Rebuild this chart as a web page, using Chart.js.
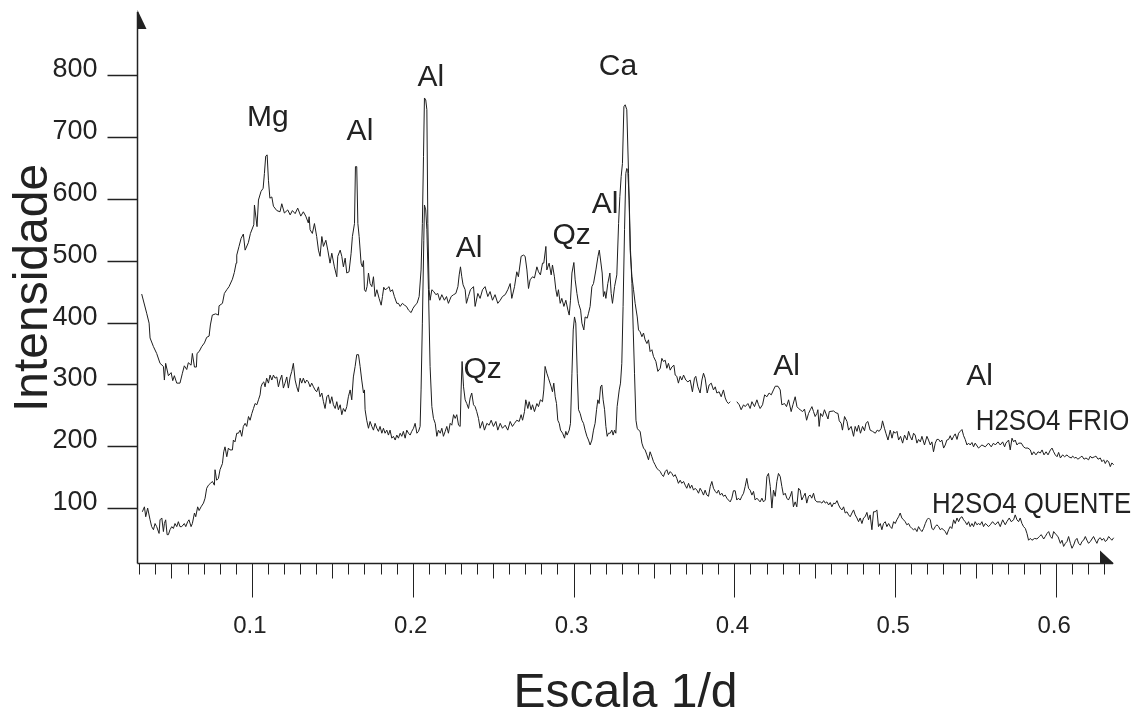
<!DOCTYPE html>
<html>
<head>
<meta charset="utf-8">
<script src="https://cdn.jsdelivr.net/npm/chart.js@4/dist/chart.umd.min.js"></script>
<style>
  html, body { margin: 0; padding: 0; background: #ffffff; }
  canvas { display: block; }
</style>
</head>
<body>
<canvas id="xrd" width="1143" height="711"></canvas>
<script>
// H2SO4 FRIO (upper trace)
const frioX = [
  0.0315, 0.0346, 0.0361, 0.0367, 0.0388, 0.0408, 0.0429, 0.0450, 0.0456, 0.0464,
  0.0481, 0.0498, 0.0508, 0.0518, 0.0533, 0.0553, 0.0568, 0.0580, 0.0595, 0.0605,
  0.0622, 0.0630, 0.0643, 0.0655, 0.0659, 0.0672, 0.0688, 0.0705, 0.0719, 0.0734,
  0.0742, 0.0754, 0.0775, 0.0792, 0.0796, 0.0817, 0.0829, 0.0844, 0.0858, 0.0879,
  0.0891, 0.0902, 0.0906, 0.0920, 0.0933, 0.0947, 0.0958, 0.0978, 0.0991, 0.1012,
  0.1016, 0.1032, 0.1041, 0.1057, 0.1070, 0.1078, 0.1086, 0.1095, 0.1103, 0.1112,
  0.1124, 0.1134, 0.1155, 0.1175, 0.1186, 0.1202, 0.1223, 0.1238, 0.1252, 0.1269,
  0.1285, 0.1304, 0.1320, 0.1335, 0.1351,
  0.1356, 0.1362, 0.1376, 0.1389, 0.1403, 0.1414, 0.1424, 0.1435, 0.1445, 0.1460,
  0.1472, 0.1486, 0.1497, 0.1513, 0.1528, 0.1534, 0.1549, 0.1559, 0.1569, 0.1580,
  0.1590, 0.1604, 0.1617, 0.1625, 0.1638, 0.1644, 0.1652, 0.1659, 0.1667, 0.1679,
  0.1687, 0.1694, 0.1700, 0.1708, 0.1716, 0.1725, 0.1735, 0.1746, 0.1756, 0.1766,
  0.1777, 0.1791, 0.1804, 0.1812, 0.1820, 0.1828, 0.1841, 0.1853, 0.1861, 0.1874,
  0.1886, 0.1901, 0.1911, 0.1922, 0.1936, 0.1949, 0.1961, 0.1974, 0.1990, 0.2002,
  0.2015, 0.2027, 0.2040, 0.2052, 0.2060, 0.2067, 0.2073, 0.2081, 0.2088, 0.2094,
  0.2102, 0.2108, 0.2119, 0.2131, 0.2144, 0.2156, 0.2168, 0.2181, 0.2197, 0.2210,
  0.2222, 0.2239, 0.2254, 0.2268, 0.2281, 0.2289, 0.2297, 0.2305, 0.2313, 0.2326,
  0.2334, 0.2346, 0.2359, 0.2378,
  0.2388, 0.2405, 0.2419, 0.2434, 0.2450, 0.2467, 0.2481, 0.2496, 0.2512, 0.2529,
  0.2544, 0.2558, 0.2575, 0.2591, 0.2606, 0.2616, 0.2633, 0.2647, 0.2657, 0.2674,
  0.2689, 0.2699, 0.2710, 0.2720, 0.2730, 0.2745, 0.2757, 0.2772, 0.2782, 0.2794,
  0.2807, 0.2815, 0.2828, 0.2834, 0.2848, 0.2861, 0.2869, 0.2881, 0.2890, 0.2898,
  0.2906, 0.2917, 0.2927, 0.2940, 0.2952, 0.2965, 0.2973, 0.2981, 0.2990, 0.3002,
  0.3010, 0.3021, 0.3031, 0.3044, 0.3052, 0.3064, 0.3072, 0.3085, 0.3093, 0.3103,
  0.3114, 0.3124, 0.3139, 0.3152, 0.3160, 0.3168, 0.3178, 0.3186, 0.3194, 0.3201,
  0.3213, 0.3226, 0.3234, 0.3242, 0.3255, 0.3269, 0.3280, 0.3288, 0.3296, 0.3304,
  0.3313, 0.3321, 0.3331, 0.3342, 0.3352, 0.3363, 0.3373, 0.3383, 0.3396, 0.3404,
  0.3414, 0.3425, 0.3435, 0.3445, 0.3456,
  0.3466, 0.3476, 0.3487, 0.3497, 0.3512, 0.3524, 0.3539, 0.3549, 0.3559, 0.3570,
  0.3580, 0.3590, 0.3601, 0.3611, 0.3624, 0.3632, 0.3642, 0.3652, 0.3663, 0.3673,
  0.3684, 0.3698, 0.3711, 0.3725, 0.3739, 0.3752, 0.3760, 0.3773, 0.3787, 0.3798,
  0.3808, 0.3818, 0.3831, 0.3843, 0.3856, 0.3870, 0.3881, 0.3891, 0.3905, 0.3918,
  0.3932, 0.3943, 0.3953, 0.3963, 0.3974, 0.3995, 0.4015, 0.4030, 0.4042, 0.4057,
  0.4067, 0.4084, 0.4098, 0.4109, 0.4125, 0.4140, 0.4150, 0.4160, 0.4175, 0.4188,
  0.4202, 0.4216, 0.4229, 0.4243, 0.4254, 0.4271, 0.4285, 0.4295, 0.4312, 0.4324,
  0.4337, 0.4353, 0.4364, 0.4378, 0.4389, 0.4399, 0.4409, 0.4424, 0.4436, 0.4449,
  0.4461, 0.4472, 0.4482, 0.4492, 0.4502, 0.4513,
  0.4519, 0.4527, 0.4536, 0.4548, 0.4560, 0.4582, 0.4590, 0.4617, 0.4631, 0.4644,
  0.4652, 0.4664, 0.4672, 0.4685, 0.4700, 0.4710, 0.4726, 0.4741, 0.4751, 0.4762,
  0.4772, 0.4784, 0.4797, 0.4809, 0.4818, 0.4830, 0.4844, 0.4859, 0.4876, 0.4888,
  0.4900, 0.4913, 0.4921, 0.4933, 0.4942, 0.4955, 0.4969, 0.4980, 0.4990, 0.5000,
  0.5011, 0.5021, 0.5033, 0.5046, 0.5058, 0.5073, 0.5083, 0.5093, 0.5104, 0.5114,
  0.5124, 0.5135, 0.5145, 0.5156, 0.5166, 0.5182, 0.5197, 0.5207, 0.5218, 0.5228,
  0.5238, 0.5249, 0.5259, 0.5270, 0.5280, 0.5290, 0.5301, 0.5311, 0.5321, 0.5332,
  0.5342, 0.5352, 0.5363, 0.5373, 0.5384, 0.5394, 0.5404, 0.5415, 0.5425, 0.5435,
  0.5446, 0.5456, 0.5466, 0.5477, 0.5487, 0.5497, 0.5518, 0.5539, 0.5560, 0.5580,
  0.5597, 0.5611, 0.5622, 0.5639, 0.5653, 0.5668, 0.5680, 0.5688, 0.5705, 0.5715,
  0.5726, 0.5736, 0.5746, 0.5757, 0.5767, 0.5784, 0.5798, 0.5809, 0.5825, 0.5840,
  0.5850, 0.5861, 0.5875, 0.5888, 0.5902, 0.5913, 0.5925, 0.5938, 0.5950, 0.5965,
  0.5975, 0.5985, 0.5995, 0.6006, 0.6016, 0.6027, 0.6041, 0.6053, 0.6068, 0.6078,
  0.6095, 0.6103, 0.6115, 0.6124, 0.6136, 0.6151, 0.6161, 0.6174, 0.6186, 0.6202,
  0.6213, 0.6223, 0.6240, 0.6248, 0.6261, 0.6275, 0.6285, 0.6296, 0.6306, 0.6316,
  0.6327, 0.6337, 0.6347, 0.6358
];
const frioY = [
  446, 415, 399, 375, 361, 350, 334, 329, 307, 334,
  314, 319, 306, 314, 302, 302, 318, 330, 324, 335,
  331, 350, 328, 328, 350, 353, 361, 367, 376, 378,
  396, 412, 414, 412, 427, 431, 447, 453, 458, 470,
  481, 496, 509, 523, 536, 543, 517, 529, 544, 558,
  590, 555, 598, 612, 617, 641, 669, 671, 630, 601,
  603, 588, 581, 579, 592, 577, 582, 574, 581, 576,
  585, 572, 579, 572, 561,
  571, 550, 544, 560, 539, 517, 507, 539, 523, 533,
  517, 496, 512, 490, 474, 507, 517, 507, 490, 504,
  480, 482, 512, 539, 560, 652, 652, 560, 539, 496,
  490, 500, 453, 450, 458, 480, 463, 458, 474, 442,
  453, 439, 428, 442, 457, 453, 455, 458, 450, 453,
  442, 431, 431, 426, 431, 428, 426, 420, 416, 423,
  428, 431, 442, 485, 560, 668, 763, 760, 744, 560,
  453, 436, 453, 450, 445, 447, 436, 445, 436, 442,
  431, 442, 445, 447, 458, 477, 490, 474, 461, 453,
  431, 442, 453, 458,
  426, 447, 439, 453, 458, 442, 450, 436, 445, 431,
  436, 442, 445, 453, 463, 439, 458, 482, 474, 507,
  509, 507, 485, 455, 469, 474, 472, 490, 482, 477,
  496, 496, 523, 485, 496, 477, 493, 474, 453, 442,
  453, 431, 439, 426, 436, 420, 412, 436, 480, 497,
  469, 447, 431, 420, 399, 388, 409, 407, 415, 426,
  458, 463, 485, 507, 517, 501, 480, 442, 450, 439,
  463, 480, 447, 431, 458, 477, 560, 604, 636, 657,
  749, 752, 744, 641, 517, 474, 453, 431, 409, 388,
  385, 377, 383, 372, 366,
  372, 353, 356, 345, 337, 321, 326, 342, 337, 339,
  326, 334, 323, 328, 331, 315, 313, 302, 313, 307,
  315, 307, 304, 307, 288, 310, 313, 296, 286, 307,
  318, 310, 286, 299, 302, 291, 296, 286, 288, 280,
  291, 278, 272, 269, 272, null, 272, 267, 259, 267,
  264, 269, 261, 272, 264, 275, 267, 261, 267, 283,
  280, 286, 283, 291, 297, 297, 291, 267, 269, 264,
  275, 256, 267, 280, 264, 261, 259, 256, 260, 242,
  253, 259, 264, 256, 248, 253,
  259, 232, 253, 248, 259, 244, 256, 257, 254, 253,
  241, 237, 226, 248, 240, 226, 232, 216, 232, 224,
  234, 221, 232, 225, 237, 240, 226, 224, 221, 226,
  224, 229, 241, 229, 221, 210, 226, 213, 224, 221,
  224, 210, 216, 205, 218, 210, 224, 216, 210, 221,
  218, 205, 211, 207, 216, 202, 216, 210, 202, 207,
  191, 205, 211, 211, 207, 210, 197, 202, 210, 211,
  217, 210, 216, 220, 211, 221, 224, 227, 217, 211,
  202, 205, 202, 206, 199, 205, 197, 202, 199, 205,
  199, 205, 202, 207, 202, 207, 199, 205, 210, 194,
  213, 207, 210, 202, 205, 205, 199, 197, 197, 194,
  186, 191, 186, 191, 189, 194, 186, 191, 186, 194,
  197, 191, 186, 183, 190, 181, 186, 183, 186, 183,
  181, 184, 181, 182, 179, 182, 184, 179, 181, 178,
  184, 181, 183, 184, 179, 181, 175, 178, 172, 177,
  175, 167, 173, 170
];

// H2SO4 QUENTE (lower trace)
const quenteX = [
  0.0319, 0.0332, 0.0340, 0.0352, 0.0367, 0.0377, 0.0388, 0.0398, 0.0408, 0.0423,
  0.0429, 0.0440, 0.0450, 0.0456, 0.0464, 0.0473, 0.0481, 0.0491, 0.0502, 0.0512,
  0.0522, 0.0533, 0.0543, 0.0553, 0.0564, 0.0580, 0.0589, 0.0601, 0.0609, 0.0622,
  0.0630, 0.0643, 0.0651, 0.0663, 0.0672, 0.0684, 0.0699, 0.0709, 0.0719, 0.0730,
  0.0742, 0.0755, 0.0767, 0.0771, 0.0781, 0.0792, 0.0802, 0.0817, 0.0825, 0.0833,
  0.0844, 0.0854, 0.0864, 0.0879, 0.0885, 0.0895, 0.0906, 0.0916, 0.0927, 0.0937,
  0.0947, 0.0958, 0.0968, 0.0979, 0.0989, 0.1000, 0.1010, 0.1020, 0.1031, 0.1041,
  0.1051, 0.1057, 0.1066, 0.1074, 0.1082, 0.1092, 0.1103, 0.1113, 0.1124, 0.1134,
  0.1144, 0.1155, 0.1165, 0.1175, 0.1186, 0.1196, 0.1206, 0.1217, 0.1227, 0.1238,
  0.1248, 0.1258, 0.1269, 0.1279, 0.1289, 0.1300, 0.1310, 0.1320, 0.1331, 0.1341,
  0.1351, 0.1362, 0.1372, 0.1383, 0.1393, 0.1403, 0.1414, 0.1424, 0.1435, 0.1445,
  0.1455, 0.1466, 0.1476, 0.1486, 0.1497, 0.1507, 0.1518, 0.1528, 0.1538, 0.1549,
  0.1559, 0.1569, 0.1580, 0.1590, 0.1600, 0.1611, 0.1621, 0.1631, 0.1642, 0.1652,
  0.1663, 0.1673, 0.1683, 0.1694, 0.1700, 0.1704, 0.1714, 0.1725, 0.1735, 0.1746,
  0.1756, 0.1766, 0.1777, 0.1787, 0.1797, 0.1808, 0.1818, 0.1828, 0.1839, 0.1849,
  0.1859, 0.1870, 0.1880, 0.1891, 0.1901, 0.1911, 0.1922, 0.1932, 0.1942, 0.1953,
  0.1963, 0.1974, 0.1984, 0.1994, 0.2005, 0.2015, 0.2026, 0.2036, 0.2046, 0.2052,
  0.2060, 0.2069, 0.2073, 0.2081, 0.2088, 0.2098, 0.2108, 0.2119, 0.2129, 0.2140,
  0.2150, 0.2160, 0.2171, 0.2181, 0.2191, 0.2202, 0.2212, 0.2222, 0.2233, 0.2243,
  0.2254, 0.2264, 0.2274, 0.2285, 0.2295, 0.2301, 0.2307, 0.2316, 0.2326, 0.2336,
  0.2347, 0.2357, 0.2367, 0.2378, 0.2388, 0.2398, 0.2409,
  0.2419, 0.2434, 0.2446, 0.2461, 0.2475, 0.2488, 0.2502, 0.2517, 0.2529, 0.2544,
  0.2558, 0.2575, 0.2591, 0.2606, 0.2620, 0.2633, 0.2647, 0.2662, 0.2674, 0.2683,
  0.2695, 0.2703, 0.2716, 0.2724, 0.2736, 0.2745, 0.2757, 0.2772, 0.2782, 0.2794,
  0.2807, 0.2815, 0.2823, 0.2834, 0.2844, 0.2861, 0.2869, 0.2877, 0.2886, 0.2894,
  0.2902, 0.2911, 0.2919, 0.2932, 0.2944, 0.2952, 0.2960, 0.2973, 0.2981, 0.2990,
  0.2998, 0.3006, 0.3014, 0.3023, 0.3031, 0.3041, 0.3052, 0.3062, 0.3072, 0.3083,
  0.3093, 0.3103, 0.3114, 0.3124, 0.3134, 0.3143, 0.3151, 0.3159, 0.3168, 0.3176,
  0.3184, 0.3193, 0.3201, 0.3209, 0.3217, 0.3228, 0.3238, 0.3246, 0.3255, 0.3263,
  0.3271, 0.3284, 0.3292, 0.3300, 0.3308, 0.3317, 0.3325, 0.3331, 0.3337, 0.3346,
  0.3354, 0.3363, 0.3371, 0.3379, 0.3388, 0.3396, 0.3404, 0.3414, 0.3425, 0.3435,
  0.3445, 0.3456, 0.3466,
  0.3476, 0.3487, 0.3497, 0.3507, 0.3518, 0.3528, 0.3539, 0.3549, 0.3559, 0.3570,
  0.3580, 0.3590, 0.3601, 0.3611, 0.3622, 0.3632, 0.3642, 0.3652, 0.3663, 0.3673,
  0.3684, 0.3694, 0.3704, 0.3715, 0.3725, 0.3735, 0.3746, 0.3756, 0.3767, 0.3777,
  0.3787, 0.3798, 0.3808, 0.3818, 0.3829, 0.3839, 0.3850, 0.3860, 0.3870, 0.3881,
  0.3891, 0.3901, 0.3912, 0.3922, 0.3932, 0.3943, 0.3953, 0.3963, 0.3974, 0.3984,
  0.3994, 0.4005, 0.4015, 0.4025, 0.4036, 0.4046, 0.4057, 0.4067, 0.4077, 0.4088,
  0.4098, 0.4109, 0.4119, 0.4129, 0.4140, 0.4150, 0.4160, 0.4171, 0.4181, 0.4192,
  0.4202, 0.4212, 0.4223, 0.4233, 0.4243, 0.4254, 0.4264, 0.4274, 0.4285, 0.4295,
  0.4305, 0.4316, 0.4326, 0.4336, 0.4347, 0.4357, 0.4367, 0.4378, 0.4388, 0.4399,
  0.4409, 0.4419, 0.4430, 0.4440, 0.4450, 0.4461, 0.4471, 0.4481, 0.4492, 0.4502,
  0.4513,
  0.4534, 0.4544, 0.4555, 0.4565, 0.4575, 0.4586, 0.4596, 0.4606, 0.4617, 0.4627,
  0.4638, 0.4648, 0.4658, 0.4669, 0.4679, 0.4689, 0.4700, 0.4710, 0.4720, 0.4731,
  0.4741, 0.4751, 0.4762, 0.4772, 0.4782, 0.4793, 0.4803, 0.4813, 0.4824, 0.4834,
  0.4844, 0.4855, 0.4865, 0.4876, 0.4886, 0.4896, 0.4907, 0.4917, 0.4927, 0.4938,
  0.4948, 0.4959, 0.4969, 0.4979, 0.4990, 0.5000, 0.5010, 0.5021, 0.5031, 0.5041,
  0.5052, 0.5062, 0.5072, 0.5083, 0.5093, 0.5104, 0.5114, 0.5124, 0.5135, 0.5145,
  0.5156, 0.5166, 0.5176, 0.5187, 0.5197, 0.5207, 0.5218, 0.5228, 0.5238, 0.5249,
  0.5259, 0.5270, 0.5280, 0.5290, 0.5301, 0.5311, 0.5321, 0.5332, 0.5342, 0.5352,
  0.5363, 0.5373, 0.5384, 0.5394, 0.5404, 0.5415, 0.5425, 0.5435, 0.5446, 0.5456,
  0.5466, 0.5477, 0.5487, 0.5497, 0.5508, 0.5518, 0.5528, 0.5539, 0.5549, 0.5560,
  0.5570, 0.5580,
  0.5591, 0.5605, 0.5622, 0.5639, 0.5653, 0.5668, 0.5684, 0.5694, 0.5709, 0.5721,
  0.5736, 0.5746, 0.5757, 0.5767, 0.5777, 0.5788, 0.5798, 0.5809, 0.5819, 0.5829,
  0.5840, 0.5850, 0.5867, 0.5881, 0.5896, 0.5908, 0.5923, 0.5933, 0.5944, 0.5954,
  0.5965, 0.5975, 0.5985, 0.6000, 0.6012, 0.6027, 0.6037, 0.6047, 0.6058, 0.6068,
  0.6078, 0.6089, 0.6099, 0.6109, 0.6120, 0.6130, 0.6140, 0.6151, 0.6161, 0.6171,
  0.6182, 0.6192, 0.6202, 0.6213, 0.6223, 0.6233, 0.6244, 0.6254, 0.6264, 0.6275,
  0.6285, 0.6296, 0.6306, 0.6316, 0.6327, 0.6337, 0.6347, 0.6358, 0.6368, 0.6378
];
const quenteY = [
  94, 102, 86, 100, 81, 70, 65, 75, 70, 59,
  81, 84, 62, 75, 81, 57, 57, 65, 70, 67,
  75, 70, 78, 70, 70, 75, 70, 78, 81, 70,
  75, 92, 86, 102, 96, 102, 108, 116, 132, 137,
  140, 143, 137, 162, 145, 148, 162, 172, 191, 199,
  183, 197, 194, 194, 210, 207, 221, 221, 226, 216,
  232, 237, 232, 248, 242, 253, 261, 269, 267, 275,
  283, 296, 302, 304, 296, 310, 302, 315, 307, 315,
  310, 312, 296, 307, 315, 294, 302, 312, 294, 312,
  321, 334, 307, 296, 288, 310, 302, 310, 302, 307,
  304, 296, 302, 296, 291, 288, 296, 280, 286, 272,
  261, 280, 283, 269, 280, 267, 261, 272, 259, 267,
  251, 261, 256, 264, 280, 291, 275, 312, 329, 348,
  348, 329, 307, 286, 291, 259, 242, 229, 240, 232,
  226, 237, 229, 224, 232, 221, 229, 221, 226, 218,
  226, 213, 216, 210, 218, 213, 221, 216, 224, 213,
  226, 221, 218, 224, 229, 237, 221, 224, 232, 291,
  399, 533, 590, 582, 550, 453, 329, 264, 245, 237,
  216, 226, 221, 229, 216, 224, 232, 221, 237, 234,
  251, 245, 251, 234, 232, 291, 337, 296, 275, 269,
  261, 278, 286, 267, 264, 256, 245,
  229, 240, 226, 237, 234, 242, 232, 240, 226, 237,
  229, 234, 226, 240, 232, 237, 242, 240, 251, 242,
  256, 275, 261, 272, 259, 267, 256, 269, 264, 275,
  272, 291, 329, 318, 310, 296, 288, 302, 280, 269,
  242, 237, 226, 221, 213, 224, 218, 226, 237, 318,
  388, 409, 399, 318, 259, 253, 242, 237, 226, 216,
  210, 202, 210, 226, 237, 259, 275, 269, 296, 299,
  275, 259, 232, 216, 221, 221, 226, 218, 226, 221,
  264, 291, 302, 334, 426, 550, 641, 649, 647, 598,
  517, 463, 388, 318, 242, 229, 226, 224, 205, 197,
  194, 186, 178,
  191, 183, 175, 170, 164, 162, 159, 154, 151, 159,
  162, 154, 159, 156, 151, 154, 148, 140, 145, 140,
  143, 137, 132, 140, 132, 137, 129, 132, 129, 124,
  132, 127, 121, 129, 121, 119, 135, 143, 132, 127,
  124, 129, 121, 124, 119, 121, 116, 113, 110, 116,
  128, 128, 113, 116, 113, 119, 124, 135, 148, 132,
  129, 121, 127, 113, 116, 113, 110, 116, 110, 113,
  151, 156, 135, 100, 129, 119, 143, 156, 151, 135,
  121, 124, 116, 113, 119, 127, 102, 110, 102, 132,
  129, 113, 119, 124, 108, 119, 121, 116, 124, 113,
  110,
  110, 108, 112, 108, 110, 105, 109, 102, 108, 107,
  112, 105, 100, 97, 102, 92, 94, 89, 86, 92,
  97, 89, 84, 78, 84, 75, 84, 86, 93, 81,
  89, 65, 94, 94, 97, 70, 75, 65, 75, 78,
  70, 75, 70, 67, 78, 75, 81, 86, 92, 84,
  81, 78, 73, 75, 70, 67, 65, 67, 62, 70,
  65, 62, 67, 75, 81, 84, 81, 67, 65, 70,
  73, 70, 65, 67, 65, 62, 57, 65, 70, 67,
  81, 75, 84, 78, 84, 86, 81, 78, 73, 78,
  70, 75, 70, 78, 73, 75, 73, 78, 70, 75,
  73, 70,
  73, 78, 73, 78, 70, 81, 73, 78, 84, 78,
  81, 89, 81, 78, 84, 75, 70, 67, 59, 48,
  51, 48, 51, 50, 54, 57, 50, 54, 59, 62,
  54, 51, 62, 57, 54, 43, 48, 38, 43, 46,
  54, 43, 35, 40, 48, 51, 43, 40, 46, 48,
  54, 48, 43, 46, 50, 54, 48, 43, 50, 52,
  48, 51, 46, 48, 54, 51, 48, 52, 51, 43
];

// axis ticks
const yTickValues = [100, 200, 300, 400, 500, 600, 700, 800];
const xTickLabels = ["0.1", "0.2", "0.3", "0.4", "0.5", "0.6"];

// phase labels: text, 1/d position, intensity position
const peakText = ["Mg", "Al", "Al", "Al", "Qz", "Al", "Ca", "Qz", "Al", "Al"];
const peakX = [0.110, 0.1672, 0.2113, 0.2350, 0.2988, 0.3196, 0.3276, 0.2435, 0.4325, 0.5524];
const peakY = [718, 695, 782, 506, 527, 577, 800, 310, 315, 299];

const seriesNames = ["H2SO4 FRIO", "H2SO4 QUENTE"];
const seriesLabelX = [0.5978, 0.5848];
const seriesLabelY = [226, 92];

function toPoints(xs, ys) {
  return xs.map((x, i) => ({ x: x, y: ys[i] }));
}

const FONT = '"Liberation Sans", Arial, sans-serif';
const INK = "#222222";

const axesPlugin = {
  id: "axesPlugin",
  afterDatasetsDraw(chart) {
    const ctx = chart.ctx;
    const xs = chart.scales.x;
    const ys = chart.scales.y;
    const area = chart.chartArea;
    const x0 = area.left - 0.5;
    const yb = area.bottom + 0.5;

    ctx.save();
    ctx.strokeStyle = INK;
    ctx.fillStyle = INK;

    // y axis + arrow
    ctx.lineWidth = 1.5;
    ctx.beginPath();
    ctx.moveTo(x0, yb);
    ctx.lineTo(x0, area.top);
    ctx.stroke();
    ctx.beginPath();
    ctx.moveTo(x0, area.top - 2);
    ctx.lineTo(x0 + 9, area.top + 17);
    ctx.lineTo(x0, area.top + 17);
    ctx.closePath();
    ctx.fill();

    // x axis + arrow
    ctx.beginPath();
    ctx.moveTo(x0, yb);
    ctx.lineTo(area.right, yb);
    ctx.stroke();
    ctx.beginPath();
    ctx.moveTo(area.right - 13, yb - 13);
    ctx.lineTo(area.right + 1, yb);
    ctx.lineTo(area.right - 13, yb);
    ctx.closePath();
    ctx.fill();

    // y ticks and labels
    ctx.lineWidth = 1.5;
    ctx.font = "27px " + FONT;
    ctx.textAlign = "right";
    ctx.textBaseline = "alphabetic";
    yTickValues.forEach((v) => {
      const py = Math.round(ys.getPixelForValue(v)) + 0.5;
      ctx.beginPath();
      ctx.moveTo(x0 - 30, py);
      ctx.lineTo(x0, py);
      ctx.stroke();
      ctx.fillText(String(v), x0 - 40, py + 1);
    });

    // x ticks every 0.01, longer at 0.05 and 0.1
    ctx.lineWidth = 1;
    for (let i = 3; i <= 63; i++) {
      const px = Math.round(xs.getPixelForValue(i / 100)) + 0.5;
      let len = 11;
      if (i % 10 === 0) len = 34;
      else if (i % 5 === 0) len = 15;
      ctx.beginPath();
      ctx.moveTo(px, yb);
      ctx.lineTo(px, yb + len);
      ctx.stroke();
    }
    ctx.font = "24px " + FONT;
    ctx.textAlign = "center";
    xTickLabels.forEach((t) => {
      const px = xs.getPixelForValue(parseFloat(t));
      ctx.fillText(t, px - 2, yb + 69);
    });

    // axis titles
    ctx.font = "48px " + FONT;
    ctx.fillText("Escala 1/d", (area.left + area.right) / 2, 707);
    ctx.save();
    ctx.translate(47, 288);
    ctx.rotate(-Math.PI / 2);
    ctx.fillText("Intensidade", 0, 0);
    ctx.restore();

    // phase labels
    ctx.font = "30px " + FONT;
    peakText.forEach((t, i) => {
      ctx.fillText(t, xs.getPixelForValue(peakX[i]), ys.getPixelForValue(peakY[i]));
    });

    // series names, a little condensed
    seriesNames.forEach((t, i) => {
      ctx.save();
      ctx.translate(xs.getPixelForValue(seriesLabelX[i]), ys.getPixelForValue(seriesLabelY[i]));
      ctx.scale(0.86, 1);
      ctx.fillText(t, 0, 0);
      ctx.restore();
    });

    ctx.restore();
  },
};

const ctx = document.getElementById("xrd").getContext("2d");

const xrdChart = new Chart(ctx, {
  type: "line",
  data: {
    datasets: [
      {
        label: seriesNames[0],
        data: toPoints(frioX, frioY),
        borderColor: "#1e1e1e",
        borderWidth: 1,
        pointRadius: 0,
        tension: 0,
        spanGaps: false,
        clip: false,
      },
      {
        label: seriesNames[1],
        data: toPoints(quenteX, quenteY),
        borderColor: "#1e1e1e",
        borderWidth: 1,
        pointRadius: 0,
        tension: 0,
        spanGaps: false,
        clip: false,
      },
    ],
  },
  options: {
    responsive: false,
    animation: false,
    devicePixelRatio: 1,
    layout: {
      padding: { left: 138, right: 30, top: 12, bottom: 148 },
    },
    plugins: {
      legend: { display: false },
      tooltip: { enabled: false },
    },
    scales: {
      x: { type: "linear", min: 0.0292, max: 0.6354, display: false },
      y: { type: "linear", min: 11.2, max: 902, display: false },
    },
  },
  plugins: [axesPlugin],
});
</script>
</body>
</html>
